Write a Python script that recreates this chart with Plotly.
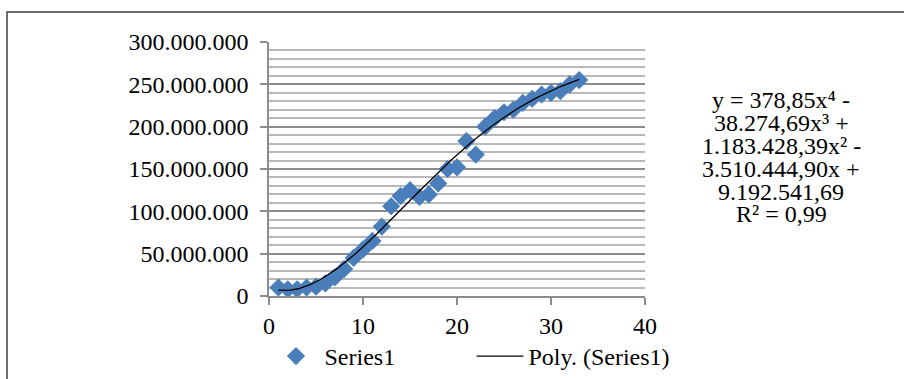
import numpy as np
import plotly.graph_objects as go

# Data
x_vals = list(range(1, 34))
y_vals = [10e6, 8e6, 8e6, 10e6, 11e6, 15e6, 22e6, 32e6, 45e6, 55e6,
          65e6, 82e6, 106e6, 118e6, 125e6, 117e6, 120e6, 133e6, 150e6, 152e6,
          183e6, 167e6, 200e6, 210e6, 217e6, 220e6, 228e6, 233e6, 238e6, 240e6,
          242e6, 250e6, 255e6]
# Trendline coefficients (highest power first), as shown on the chart
poly_coefs = [378.85, -38274.69, 1183428.39, -3510444.90, 9192541.69]
eq_lines = ["y = 378,85x⁴ -", "38.274,69x³ +",
            "1.183.428,39x² -", "3.510.444,90x +",
            "9.192.541,69", "R² = 0,99"]
x_ticks = [0, 10, 20, 30, 40]
y_ticks = [0, 50e6, 100e6, 150e6, 200e6, 250e6, 300e6]

FONT = "Liberation Serif"
W, H = 904, 379
L, R, T, B = 269, 645, 42, 296
FS = 24

xt = np.linspace(1, 33, 200)
yt = np.polyval(poly_coefs, xt)

fig = go.Figure()
fig.add_trace(go.Scatter(x=x_vals, y=y_vals, mode="markers", name="Series1",
                         marker=dict(symbol="diamond", size=14, color="#4a7ebb",
                                     line=dict(width=0))))
fig.add_trace(go.Scatter(x=xt, y=yt, mode="lines", name="Poly. (Series1)",
                         line=dict(color="black", width=1.3)))

pw, ph = R - L, B - T
def px2paperx(p):
    return (p - L) / pw
def px2papery(p):
    return (B - p) / ph

# frame
fig.add_shape(type="rect", xref="paper", yref="paper",
              x0=px2paperx(7), x1=px2paperx(915), y0=px2papery(390), y1=px2papery(12),
              line=dict(color="#404040", width=1.5), layer="below")

line_y = [100, 123, 146, 169, 192, 214]
for txt, ly in zip(eq_lines, line_y):
    fig.add_annotation(text=txt, xref="paper", yref="paper",
                       x=px2paperx(781), y=px2papery(ly), showarrow=False,
                       xanchor="center", yanchor="middle",
                       font=dict(family=FONT, size=24, color="black"))

fig.update_layout(
    width=W, height=H,
    margin=dict(l=L, r=W - R, t=T, b=H - B, autoexpand=False),
    paper_bgcolor="white", plot_bgcolor="white",
    separators=",.",
    font=dict(family=FONT, size=FS, color="black"),
    showlegend=True,
    legend=dict(orientation="h", xref="paper", yref="container",
                x=px2paperx(267.5), y=1 - 334 / H, itemwidth=47,
                xanchor="left", yanchor="top", entrywidth=142,
                font=dict(family=FONT, size=FS, color="black"),
                bgcolor="rgba(0,0,0,0)"),
    xaxis=dict(range=[0, 40], tickvals=x_ticks, showgrid=False, zeroline=False,
               automargin=False,
               showline=True, linecolor="#8c8c8c", linewidth=1.5,
               ticks="outside", ticklen=7, tickcolor="#8c8c8c", tickwidth=1.5,
               tickfont=dict(family=FONT, size=FS, color="black")),
    yaxis=dict(range=[0, 300e6], tickvals=y_ticks, tickformat=",d",
               automargin=False,
               showgrid=True, gridcolor="#8c8c8c", gridwidth=1.5, zeroline=False,
               showline=True, linecolor="#8c8c8c", linewidth=1.5,
               ticks="outside", ticklen=7, tickcolor="#8c8c8c", tickwidth=1.5,
               ticklabelstandoff=7,
               minor=dict(dtick=10e6, showgrid=True, gridcolor="#b8b8b8", gridwidth=1.5),
               tickfont=dict(family=FONT, size=FS, color="black")),
)

fig.write_html("out.html", config={"displayModeBar": False},
               post_script="document.body.style.margin='0';document.body.style.overflow='hidden';")
